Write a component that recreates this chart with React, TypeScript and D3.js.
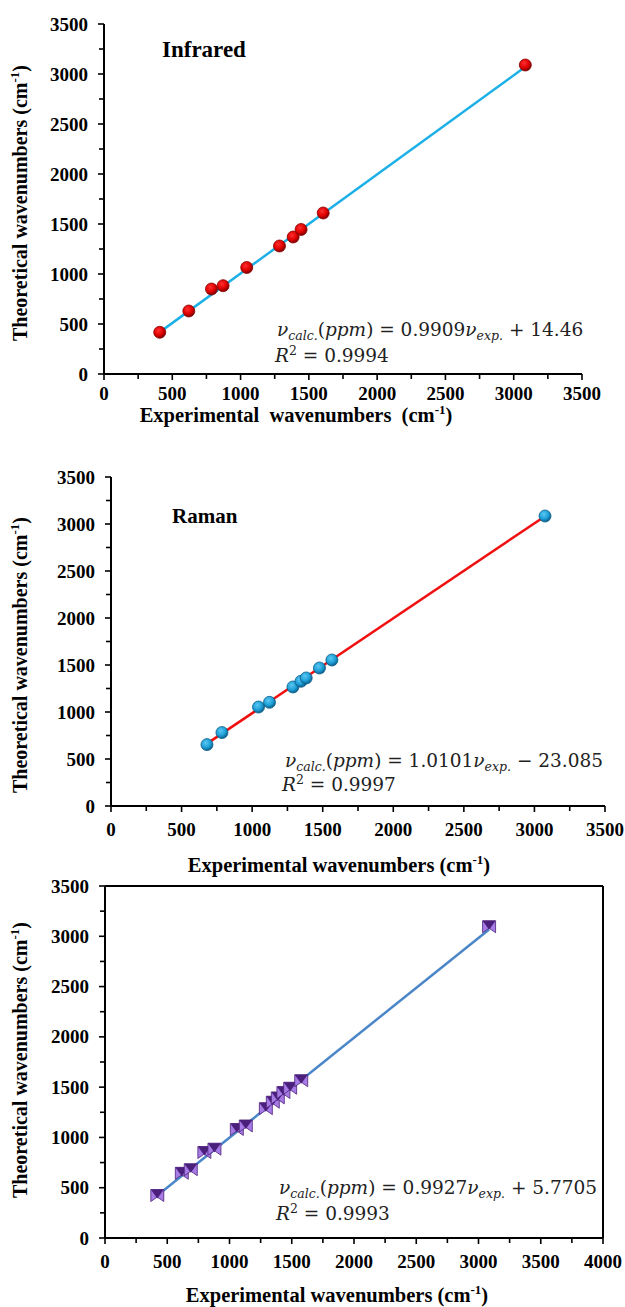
import React from "react";
import * as d3 from "d3";

// ---------- data ----------
const irExp = [408, 621, 787, 872, 1045, 1285, 1385, 1443, 1605, 3085];
const irCalc = [417, 630, 850, 883, 1065, 1280, 1370, 1445, 1610, 3090];

const ramanExp = [680, 786, 1045, 1123, 1289, 1346, 1383, 1477, 1565, 3075];
const ramanCalc = [653, 781, 1053, 1103, 1266, 1327, 1362, 1468, 1553, 3085];

const allExp = [420, 617, 689, 798, 879, 1059, 1131, 1292, 1348, 1388, 1433, 1487, 1576, 3085];
const allCalc = [422, 643, 679, 850, 883, 1079, 1114, 1286, 1350, 1393, 1446, 1489, 1564, 3095];

const ticks3500 = [0, 500, 1000, 1500, 2000, 2500, 3000, 3500];
const ticks4000 = [0, 500, 1000, 1500, 2000, 2500, 3000, 3500, 4000];

const fitIR = { a: 0.9909, b: 14.46, r2: "0.9994", sign: "+", bText: "14.46", aText: "0.9909" };
const fitRaman = { a: 1.0101, b: -23.085, r2: "0.9997", sign: "\u2212", bText: "23.085", aText: "1.0101" };
const fitAll = { a: 0.9927, b: 5.7705, r2: "0.9993", sign: "+", bText: "5.7705", aText: "0.9927" };

const SERIF = "'Liberation Serif', 'Times New Roman', serif";
const MATH = "'DejaVu Serif', serif";

type PanelProps = {
  xs: number[];
  ys: number[];
  fit: { a: number; b: number; r2: string; sign: string; bText: string; aText: string };
  xTicks: number[];
  yTicks: number[];
  x0: number;
  x1: number;
  yTop: number;
  yBot: number;
  box: boolean;
  title?: string;
  titleX?: number;
  titleY?: number;
  titleSize?: number;
  xTitle: string;
  xTitleX: number;
  xTitleY: number;
  xTitleSize: number;
  xLabelDy: number;
  yTitleX: number;
  yTitleY: number;
  eqX: number;
  eqY: number;
  r2X: number;
  r2Y: number;
  lineColor: string;
  marker: "red" | "blue" | "purple";
};

function Marker({ kind, x, y }: { kind: string; x: number; y: number }) {
  if (kind === "purple") {
    return (
      <g transform={`translate(${x},${y})`}>
        <path d="M-6.5,-6 L6.5,-6 L6.5,6 L0,1.5 L-6.5,6 Z" fill="#A77BE6" stroke="#4B2277" strokeWidth={0.8} />
        <path d="M-6.5,-6 L6.5,-6 L0,3 Z" fill="#4B1F7C" />
      </g>
    );
  }
  return <circle cx={x} cy={y} r={6} fill={`url(#grad-${kind})`} stroke={kind === "red" ? "#8A0000" : "#0B5F8A"} strokeWidth={0.8} />;
}

function Panel(p: PanelProps) {
  const xMax = p.xTicks[p.xTicks.length - 1];
  const yMax = p.yTicks[p.yTicks.length - 1];
  const x = d3.scaleLinear().domain([0, xMax]).range([p.x0, p.x1]);
  const y = d3.scaleLinear().domain([0, yMax]).range([p.yBot, p.yTop]);
  const xMinor = d3.range(250, xMax, 500);
  const yMinor = d3.range(250, yMax, 500);
  const lx0 = d3.min(p.xs) as number;
  const lx1 = d3.max(p.xs) as number;
  const line = d3
    .line<number>()
    .x((d) => x(d))
    .y((d) => y(p.fit.a * d + p.fit.b));
  const axisW = 2;
  return (
    <g>
      <line x1={p.x0} x2={p.x1} y1={p.yBot} y2={p.yBot} stroke="#000" strokeWidth={axisW} />
      <line x1={p.x0} x2={p.x0} y1={p.yTop} y2={p.yBot} stroke="#000" strokeWidth={axisW} />
      {p.box && (
        <>
          <line x1={p.x0} x2={p.x1} y1={p.yTop} y2={p.yTop} stroke="#000" strokeWidth={axisW} />
          <line x1={p.x1} x2={p.x1} y1={p.yTop} y2={p.yBot} stroke="#000" strokeWidth={axisW} />
        </>
      )}
      {p.xTicks.map((t) => (
        <g key={"xt" + t}>
          <line x1={x(t)} x2={x(t)} y1={p.yBot} y2={p.yBot + 6} stroke="#000" strokeWidth={1.6} />
          <text x={x(t)} y={p.yBot + p.xLabelDy} textAnchor="middle" fontFamily={SERIF} fontWeight="bold" fontSize={19}>
            {t}
          </text>
        </g>
      ))}
      {xMinor.map((t) => (
        <line key={"xm" + t} x1={x(t)} x2={x(t)} y1={p.yBot} y2={p.yBot + 5} stroke="#000" strokeWidth={1.6} />
      ))}
      {p.yTicks.map((t) => (
        <g key={"yt" + t}>
          <line x1={p.x0 - 6} x2={p.x0} y1={y(t)} y2={y(t)} stroke="#000" strokeWidth={1.6} />
          <text x={p.x0 - 16} y={y(t) + 6.5} textAnchor="end" fontFamily={SERIF} fontWeight="bold" fontSize={19}>
            {t}
          </text>
        </g>
      ))}
      {yMinor.map((t) => (
        <line key={"ym" + t} x1={p.x0 - 5} x2={p.x0} y1={y(t)} y2={y(t)} stroke="#000" strokeWidth={1.6} />
      ))}
      <path d={line([lx0, lx1]) || ""} stroke={p.lineColor} strokeWidth={2.5} fill="none" />
      {p.xs.map((v, i) => (
        <Marker key={"m" + i} kind={p.marker} x={x(v)} y={y(p.ys[i])} />
      ))}
      {p.title && (
        <text x={p.titleX} y={p.titleY} fontFamily={SERIF} fontWeight="bold" fontSize={p.titleSize}>
          {p.title}
        </text>
      )}
      <text x={p.xTitleX} y={p.xTitleY} textAnchor="middle" fontFamily={SERIF} fontWeight="bold" fontSize={p.xTitleSize} style={{ whiteSpace: "pre" }}>
        {p.xTitle}
        <tspan fontSize={13} dy={-8}>-1</tspan>
        <tspan dy={8}>)</tspan>
      </text>
      <text
        transform={`translate(${p.yTitleX},${p.yTitleY}) rotate(-90)`}
        textAnchor="middle"
        fontFamily={SERIF}
        fontWeight="bold"
        fontSize={20}
      >
        Theoretical wavenumbers (cm
        <tspan fontSize={13} dy={-8}>-1</tspan>
        <tspan dy={8}>)</tspan>
      </text>
      <text x={p.eqX} y={p.eqY} fontFamily={MATH} fontSize={18.5} fill="#222">
        <tspan fontStyle="italic">ν</tspan>
        <tspan fontStyle="italic" fontSize={12.5} dy={4}>calc.</tspan>
        <tspan dy={-4}>(</tspan>
        <tspan fontStyle="italic">ppm</tspan>
        <tspan>{") = " + p.fit.aText}</tspan>
        <tspan fontStyle="italic">ν</tspan>
        <tspan fontStyle="italic" fontSize={12.5} dy={4}>exp.</tspan>
        <tspan dy={-4}>{" " + p.fit.sign + " " + p.fit.bText}</tspan>
      </text>
      <text x={p.r2X} y={p.r2Y} fontFamily={MATH} fontSize={18.5} fill="#222">
        <tspan fontStyle="italic">R</tspan>
        <tspan fontSize={12.5} dy={-7}>2</tspan>
        <tspan dy={7}>{" = " + p.fit.r2}</tspan>
      </text>
    </g>
  );
}

export default function App() {
  return (
    <svg width={625} height={1307} viewBox="0 0 625 1307" style={{ display: "block", position: "absolute", left: 0, top: 0, background: "#fff" }}>
      <defs>
        <radialGradient id="grad-red" cx="40%" cy="35%" r="65%">
          <stop offset="0%" stopColor="#FF3030" />
          <stop offset="60%" stopColor="#E00000" />
          <stop offset="100%" stopColor="#7A0000" />
        </radialGradient>
        <radialGradient id="grad-blue" cx="40%" cy="35%" r="65%">
          <stop offset="0%" stopColor="#5CC8F2" />
          <stop offset="60%" stopColor="#1E9FD8" />
          <stop offset="100%" stopColor="#0B5E88" />
        </radialGradient>
      </defs>
      <rect x={0} y={0} width={625} height={1307} fill="#fff" />
      <Panel
        xs={irExp}
        ys={irCalc}
        fit={fitIR}
        xTicks={ticks3500}
        yTicks={ticks3500}
        x0={104}
        x1={582}
        yTop={24}
        yBot={374}
        box={false}
        title="Infrared"
        titleX={162}
        titleY={57}
        titleSize={23}
        xTitle={"Experimental  wavenumbers  (cm"}
        xTitleX={296}
        xTitleY={422}
        xTitleSize={20.5}
        xLabelDy={26}
        yTitleX={27}
        yTitleY={203}
        eqX={277}
        eqY={336}
        r2X={275}
        r2Y={362}
        lineColor="#1CB0E6"
        marker="red"
      />
      <Panel
        xs={ramanExp}
        ys={ramanCalc}
        fit={fitRaman}
        xTicks={ticks3500}
        yTicks={ticks3500}
        x0={111}
        x1={605}
        yTop={477}
        yBot={806}
        box={false}
        title="Raman"
        titleX={172}
        titleY={523}
        titleSize={21}
        xTitle={"Experimental wavenumbers (cm"}
        xTitleX={339}
        xTitleY={872}
        xTitleSize={20.5}
        xLabelDy={30}
        yTitleX={27}
        yTitleY={655}
        eqX={285}
        eqY={767}
        r2X={282}
        r2Y={791}
        lineColor="#F01010"
        marker="blue"
      />
      <Panel
        xs={allExp}
        ys={allCalc}
        fit={fitAll}
        xTicks={ticks4000}
        yTicks={ticks3500}
        x0={105}
        x1={603}
        yTop={886}
        yBot={1238}
        box={true}
        xTitle={"Experimental wavenumbers (cm"}
        xTitleX={337}
        xTitleY={1302}
        xTitleSize={20.5}
        xLabelDy={30}
        yTitleX={27}
        yTitleY={1060}
        eqX={279}
        eqY={1194}
        r2X={276}
        r2Y={1220}
        lineColor="#4A86C8"
        marker="purple"
      />
    </svg>
  );
}
